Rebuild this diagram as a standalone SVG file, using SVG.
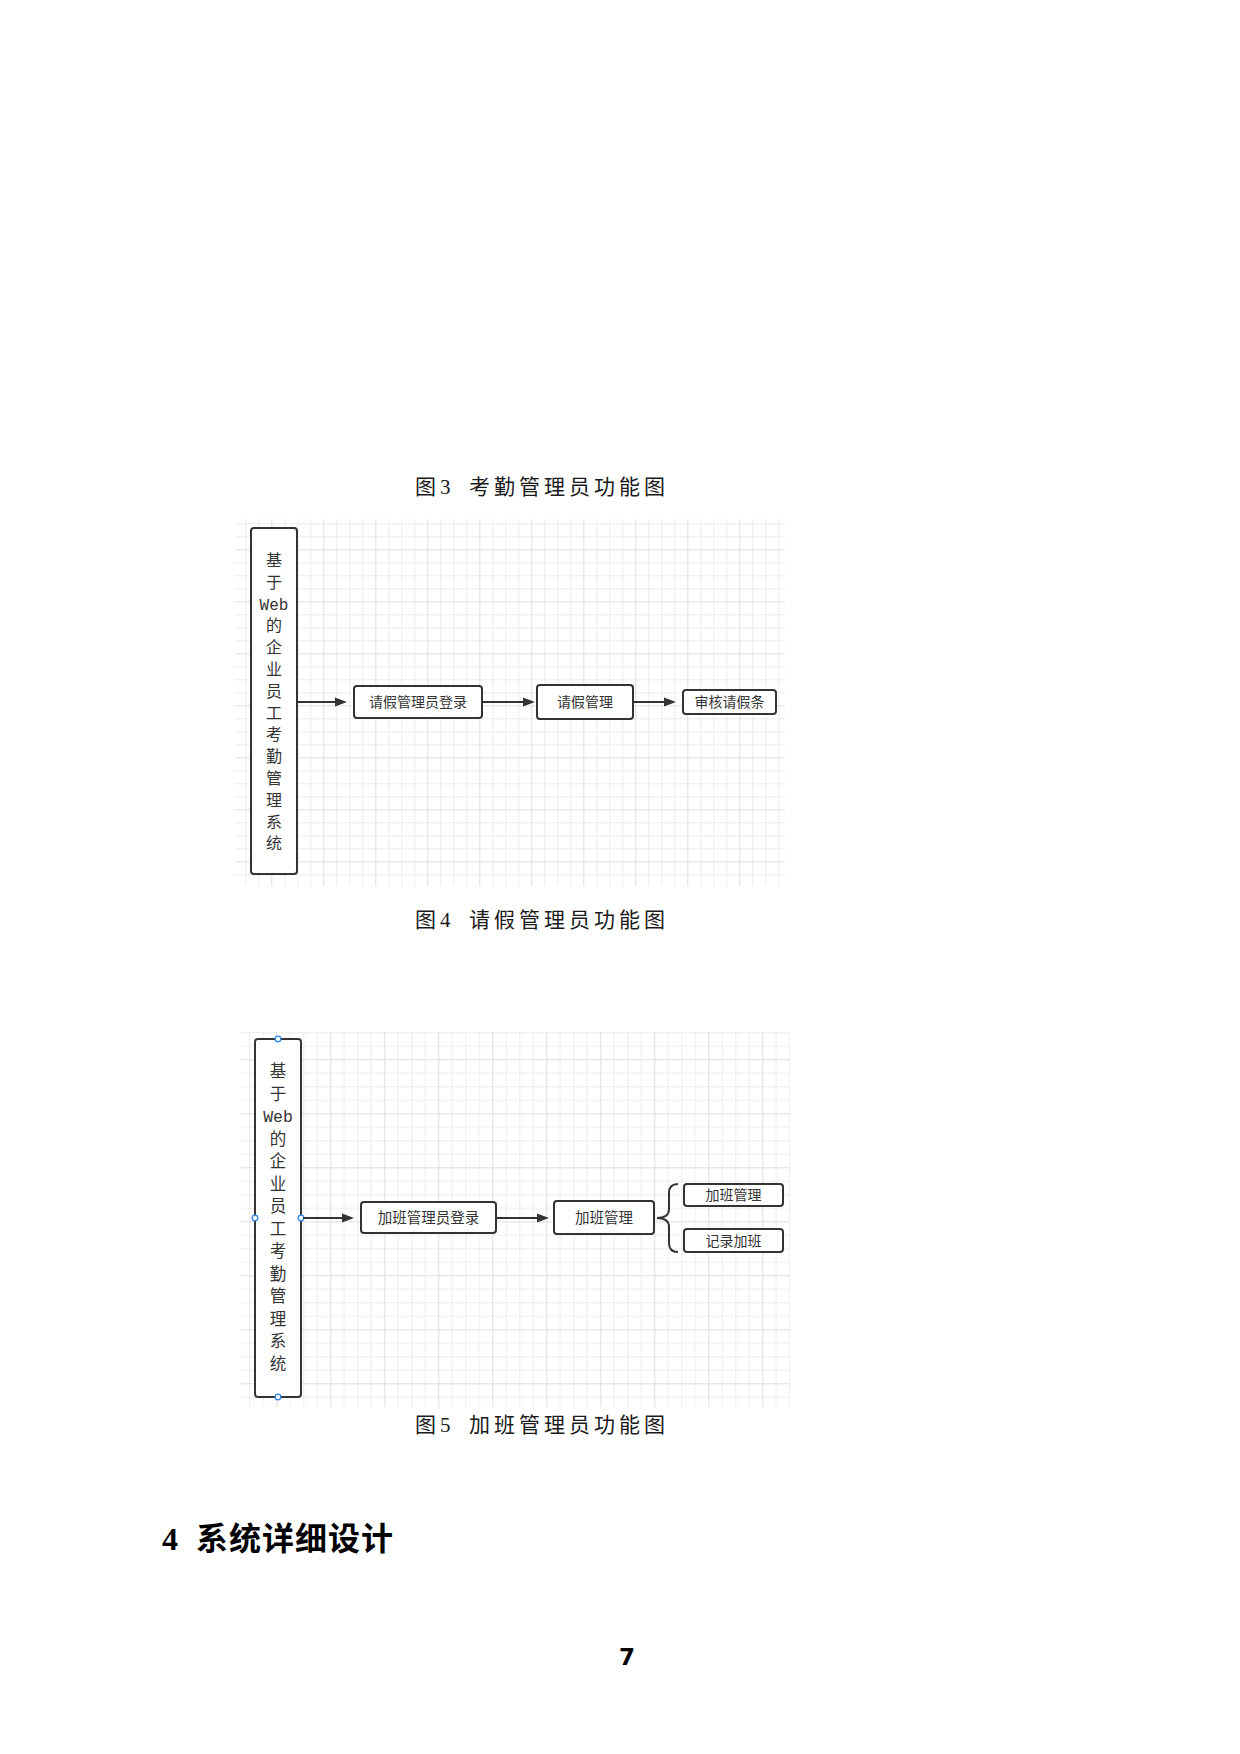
<svg xmlns="http://www.w3.org/2000/svg" width="1240" height="1754" viewBox="0 0 1240 1754">
<style>
.cap{font-family:"Liberation Serif","Noto Sans CJK SC",serif;font-size:21px;fill:#1a1a1a;letter-spacing:4px}
.node{fill:#fff;stroke:#333;stroke-width:2}
.lbl{font-family:"Noto Sans CJK SC",sans-serif;font-size:14px;fill:#333;text-anchor:middle}
.vt{font-family:"Liberation Mono","Noto Sans CJK SC",monospace;font-size:16px;fill:#333;text-anchor:middle}
.conn{stroke:#333;stroke-width:2;fill:none}
.handle{fill:#fff;stroke:#2f86e8;stroke-width:1.3}
.head{font-family:"Liberation Serif","Noto Sans CJK SC",serif;font-size:32px;font-weight:bold;fill:#000}
.pg{font-family:"DejaVu Sans",sans-serif;font-size:23px;font-weight:bold;fill:#000;text-anchor:middle}
</style>
<defs>
<marker id="ah" markerWidth="13" markerHeight="10" refX="4" refY="5" orient="auto" markerUnits="userSpaceOnUse">
<path d="M0,0.5 L12,5 L0,9.5 Z" fill="#333"/>
</marker>
<pattern id="g4" x="219.3" y="497.3" width="52" height="52" patternUnits="userSpaceOnUse">
<rect x="13" y="0" width="1" height="52" fill="#ebebeb"/>
<rect x="26" y="0" width="1" height="52" fill="#ebebeb"/>
<rect x="39" y="0" width="1" height="52" fill="#ebebeb"/>
<rect x="0" y="13" width="52" height="1" fill="#ebebeb"/>
<rect x="0" y="26" width="52" height="1" fill="#ebebeb"/>
<rect x="0" y="39" width="52" height="1" fill="#ebebeb"/>
<rect x="0" y="0" width="1" height="52" fill="#dedede"/>
<rect x="0" y="0" width="52" height="1" fill="#dedede"/>
</pattern>
<pattern id="g5" x="222.3" y="1005.3" width="54" height="54" patternUnits="userSpaceOnUse">
<rect x="13.5" y="0" width="1" height="54" fill="#ebebeb"/>
<rect x="27" y="0" width="1" height="54" fill="#ebebeb"/>
<rect x="40.5" y="0" width="1" height="54" fill="#ebebeb"/>
<rect x="0" y="13.5" width="54" height="1" fill="#ebebeb"/>
<rect x="0" y="27" width="54" height="1" fill="#ebebeb"/>
<rect x="0" y="40.5" width="54" height="1" fill="#ebebeb"/>
<rect x="0" y="0" width="1" height="54" fill="#dedede"/>
<rect x="0" y="0" width="54" height="1" fill="#dedede"/>
</pattern>
</defs>
<rect width="1240" height="1754" fill="#fff"/>

<g id="caption3">
<text class="cap" y="494"><tspan x="415">图</tspan><tspan x="440">3</tspan><tspan x="469">考勤管理员功能图</tspan></text>
</g>

<!-- Figure 4 -->
<g id="fig4-grid"><rect x="235" y="519" width="550" height="367" fill="url(#g4)"/></g>
<g id="fig4-system">
<rect class="node" x="251" y="528" width="46" height="346" rx="3"/>
<text class="vt">
<tspan x="274" y="566">基</tspan><tspan x="274" y="588">于</tspan><tspan x="274" y="610">Web</tspan><tspan x="274" y="631">的</tspan><tspan x="274" y="653">企</tspan><tspan x="274" y="675">业</tspan><tspan x="274" y="697">员</tspan><tspan x="274" y="719">工</tspan><tspan x="274" y="740">考</tspan><tspan x="274" y="762">勤</tspan><tspan x="274" y="784">管</tspan><tspan x="274" y="806">理</tspan><tspan x="274" y="828">系</tspan><tspan x="274" y="849">统</tspan>
</text>
</g>
<g id="fig4-login">
<rect class="node" x="354" y="686" width="128" height="32" rx="3"/>
<text class="lbl" x="418" y="707">请假管理员登录</text>
</g>
<g id="fig4-manage">
<rect class="node" x="537" y="685" width="96" height="34" rx="3"/>
<text class="lbl" x="585" y="707">请假管理</text>
</g>
<g id="fig4-review">
<rect class="node" x="683" y="690" width="93" height="24" rx="3"/>
<text class="lbl" x="729.5" y="707">审核请假条</text>
</g>
<g id="fig4-connectors">
<line class="conn" x1="297" y1="702" x2="339" y2="702" marker-end="url(#ah)"/>
<line class="conn" x1="482" y1="702" x2="527" y2="702" marker-end="url(#ah)"/>
<line class="conn" x1="633" y1="702" x2="668" y2="702" marker-end="url(#ah)"/>
</g>

<g id="caption4">
<text class="cap" y="927"><tspan x="415">图</tspan><tspan x="440">4</tspan><tspan x="469">请假管理员功能图</tspan></text>
</g>

<!-- Figure 5 -->
<g id="fig5-grid"><rect x="241" y="1032" width="549" height="375" fill="url(#g5)"/></g>
<g id="fig5-system">
<rect class="node" x="255" y="1039" width="46" height="358" rx="3"/>
<text class="vt" style="font-size:16.5px">
<tspan x="278" y="1077">基</tspan><tspan x="278" y="1099.5">于</tspan><tspan x="278" y="1122">Web</tspan><tspan x="278" y="1144.5">的</tspan><tspan x="278" y="1167">企</tspan><tspan x="278" y="1189.5">业</tspan><tspan x="278" y="1212">员</tspan><tspan x="278" y="1234.5">工</tspan><tspan x="278" y="1257">考</tspan><tspan x="278" y="1279.5">勤</tspan><tspan x="278" y="1302">管</tspan><tspan x="278" y="1324.5">理</tspan><tspan x="278" y="1347">系</tspan><tspan x="278" y="1369.5">统</tspan>
</text>
<circle class="handle" cx="278" cy="1039" r="2.8"/>
<circle class="handle" cx="278" cy="1397" r="2.8"/>
<circle class="handle" cx="255" cy="1218" r="2.8"/>
<circle class="handle" cx="301" cy="1218" r="2.8"/>
</g>
<g id="fig5-login">
<rect class="node" x="361" y="1202" width="135" height="31" rx="3"/>
<text class="lbl" x="428.5" y="1223" style="font-size:14.5px">加班管理员登录</text>
</g>
<g id="fig5-manage">
<rect class="node" x="554" y="1201" width="100" height="33" rx="3"/>
<text class="lbl" x="604" y="1223" style="font-size:14.5px">加班管理</text>
</g>
<g id="fig5-overtime">
<rect class="node" x="684" y="1184" width="99" height="22" rx="3"/>
<text class="lbl" x="733.5" y="1200">加班管理</text>
</g>
<g id="fig5-record">
<rect class="node" x="684" y="1229" width="99" height="23" rx="3"/>
<text class="lbl" x="733.5" y="1245.5">记录加班</text>
</g>
<g id="fig5-connectors">
<line class="conn" x1="303" y1="1218" x2="346" y2="1218" marker-end="url(#ah)"/>
<line class="conn" x1="496" y1="1218" x2="541" y2="1218" marker-end="url(#ah)"/>
<path class="conn" d="M678,1184 Q669,1184 669,1193 L669,1209 Q669,1218 657,1218 Q669,1218 669,1227 L669,1243 Q669,1252 678,1252"/>
</g>

<g id="caption5">
<text class="cap" y="1432"><tspan x="415">图</tspan><tspan x="440">5</tspan><tspan x="469">加班管理员功能图</tspan></text>
</g>

<g id="heading">
<text class="head" y="1550"><tspan x="162">4</tspan><tspan x="196" letter-spacing="1">系统详细设计</tspan></text>
</g>
<g id="page-number">
<text class="pg" x="627" y="1665">7</text>
</g>
</svg>
